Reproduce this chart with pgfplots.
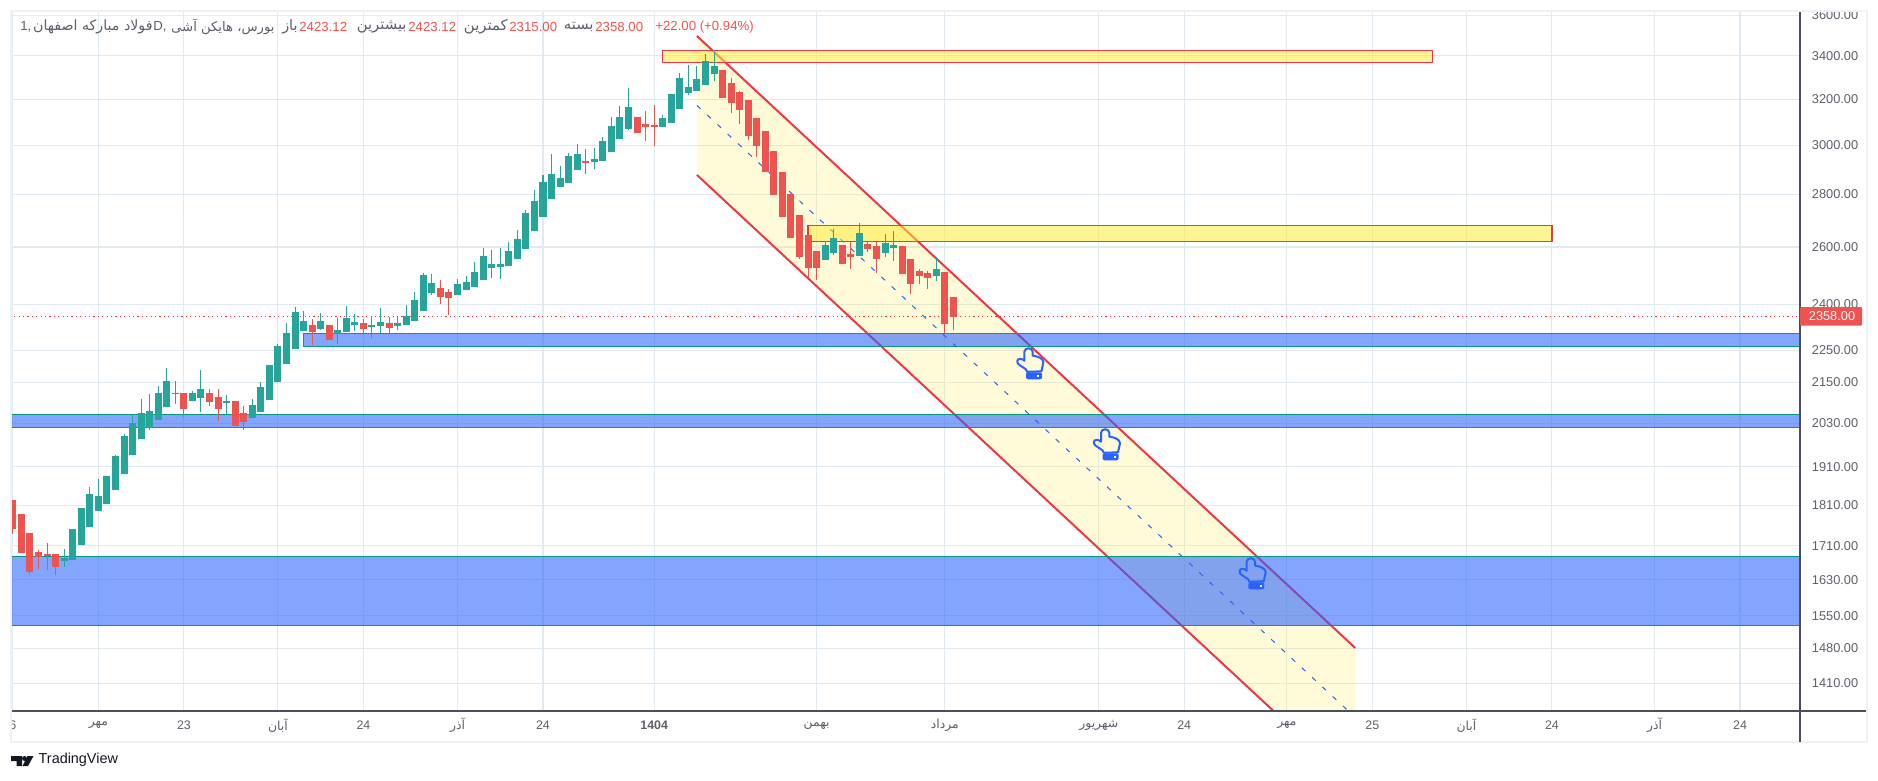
\documentclass[border=0pt]{standalone}
\usepackage{fontspec}
\usepackage{pgfplots}
\usepackage{pgfplotstable}
\pgfplotsset{compat=1.18}
\setmainfont{Liberation Sans}
\newfontfamily\arabicfont[Script=Arabic]{DejaVu Sans}
\TeXXeTstate=1
\newcommand\fa[1]{{\arabicfont\beginR #1\endR}}
\definecolor{cgreen}{HTML}{26A69A}
\definecolor{cred}{HTML}{EF5350}
\definecolor{cline}{HTML}{F23645}
\definecolor{cyel}{HTML}{FFEB3B}
\definecolor{cblue}{HTML}{2962FF}
\definecolor{cband}{HTML}{089981}
\definecolor{cgrid}{HTML}{E2EAF1}
\definecolor{clabel}{HTML}{5D606B}
\definecolor{caxis}{HTML}{4C4E5C}
\definecolor{cframe}{HTML}{EFF1F5}
\definecolor{cdark}{HTML}{131722}
% i low bodylow bodyhigh high
\pgfplotstableread{
i l b t h
6 1660 1674 1681 1702
7 1676 1676 1751 1751
8 1712 1712 1803 1803
9 1756 1756 1839 1857
10 1796 1796 1834 1878
11 1813 1813 1886 1886
12 1849 1849 1940 1942
13 1891 1891 1995 2001
14 1942 1942 2032 2058
15 1987 1987 2060 2101
16 2012 2017 2066 2116
17 2040 2040 2119 2140
18 2078 2078 2155 2195
19 2087 2116 2119 2155
21 2095 2095 2119 2125
22 2063 2104 2131 2188
25 2058 2089 2095 2113
28 2046 2046 2084 2101
29 2063 2063 2137 2152
30 2098 2098 2204 2204
31 2152 2152 2263 2270
32 2207 2207 2305 2338
33 2254 2254 2374 2391
34 2312 2312 2344 2377
36 2315 2318 2344 2371
38 2270 2302 2315 2354
39 2308 2308 2354 2394
40 2312 2331 2341 2367
42 2289 2325 2331 2361
43 2302 2328 2341 2387
45 2315 2328 2338 2357
46 2331 2331 2361 2398
47 2344 2344 2414 2442
48 2377 2377 2501 2508
49 2431 2438 2473 2504
52 2431 2431 2469 2487
53 2448 2448 2476 2497
54 2459 2459 2511 2547
55 2483 2483 2568 2597
56 2490 2525 2540 2590
57 2487 2529 2540 2597
58 2532 2532 2586 2619
59 2557 2557 2630 2664
60 2593 2593 2728 2739
61 2660 2660 2774 2817
62 2713 2713 2849 2877
63 2782 2782 2881 2963
64 2829 2829 2865 2914
65 2845 2845 2955 2967
66 2897 2897 2963 3005
68 2901 2930 2943 2988
69 2934 2934 3018 3035
70 2972 2972 3082 3121
71 3026 3026 3121 3169
72 3065 3069 3165 3251
76 3078 3078 3117 3130
77 3095 3095 3224 3224
78 3156 3156 3297 3320
79 3219 3228 3255 3357
80 3237 3237 3292 3353
81 3264 3264 3376 3410
82 3283 3315 3353 3419
95 2554 2554 2608 2623
96 2572 2579 2634 2667
99 2568 2568 2652 2690
102 2565 2579 2615 2649
103 2550 2597 2608 2660
108 2480 2497 2522 2565
}\greentab
\pgfplotstableread{
i l b t h
0 1738 1751 1824 1824
1 1693 1693 1788 1788
2 1644 1648 1741 1741
3 1655 1683 1695 1700
4 1653 1686 1690 1717
5 1641 1660 1690 1690
20 2049 2072 2119 2119
23 2081 2092 2119 2131
24 2037 2072 2107 2131
26 2023 2023 2095 2095
27 2012 2035 2060 2081
35 2267 2308 2331 2351
37 2283 2283 2331 2331
41 2299 2318 2338 2351
44 2299 2321 2338 2357
50 2401 2425 2455 2483
51 2364 2421 2442 2452
67 2881 2926 2934 2984
73 3052 3052 3121 3121
74 3018 3078 3091 3148
75 2997 3078 3086 3174
83 3205 3205 3334 3334
84 3139 3183 3274 3297
85 3091 3152 3233 3237
86 3022 3039 3196 3196
87 2951 2997 3117 3117
88 2889 2889 3060 3060
89 2798 2798 2976 2976
90 2713 2713 2889 2889
91 2634 2634 2801 2801
92 2557 2565 2720 2720
93 2490 2525 2645 2645
94 2483 2525 2586 2586
97 2540 2540 2608 2608
98 2522 2565 2575 2619
100 2583 2593 2612 2619
101 2508 2557 2604 2619
104 2504 2504 2604 2604
105 2435 2469 2557 2557
106 2469 2497 2515 2522
107 2452 2490 2508 2515
109 2305 2334 2511 2511
110 2315 2358 2423.12 2423.12
}\redtab
\newcommand\handicon[2]{%
\begin{scope}[shift={(#1,#2)}]
\draw[cblue,line width=1pt,line join=round] (7.7,12.5) -- (7.7,3.5) .. controls (7.7,-1.2) and (16,-1.2) .. (16,3.5) -- (16,7.3) .. controls (20,8) and (26.7,9.5) .. (26.7,14) -- (24.7,23) -- (10.5,23.5) .. controls (9.5,21) and (9,20.5) .. (7,19.5) -- (2.5,16.5) .. controls (-0.5,14.5) and (0,10.5) .. (3.5,10.5) .. controls (5.5,10.5) and (6.5,11.5) .. (7.7,12.5) -- cycle;
\fill[cblue,rounded corners=1pt] (9.3,24) rectangle (25.3,31);
\fill[white] (20.7,26.7) rectangle (22.7,28.7);
\end{scope}}
\begin{document}
\begin{tikzpicture}
\begin{scope}[x=0.5pt,y=-0.5pt]
\path[use as bounding box] (0,0) rectangle (1878,781);
\end{scope}
\begin{axis}[
  at={(6pt,-355.75pt)}, anchor=south west,
  scale only axis, width=894pt, height=349.75pt,
  ymode=log,
  xmin=-0.105, xmax=209.02, ymin=1355, ymax=3616.6,
  axis line style={draw=none},
  major tick length=0pt,
  log ticks with fixed point,
  grid=major,
  major grid style={cgrid,line width=0.55pt},
  xtick={0,10,20,31,41,52,62,75,94,109,127,137,149,159,170,180,192,202},
  xticklabels={6,\fa{مهر},23,\fa{آبان},24,\fa{آذر},24,\textbf{1404},\fa{بهمن},\fa{مرداد},\fa{شهریور},24,\fa{مهر},25,\fa{آبان},24,\fa{آذر},24},
  ytick={1410,1480,1550,1630,1710,1810,1910,2030,2150,2250,2400,2600,2800,3000,3200,3400,3600},
  yticklabels={1410.00,1480.00,1550.00,1630.00,1710.00,1810.00,1910.00,2030.00,2150.00,2250.00,2400.00,2600.00,2800.00,3000.00,3200.00,3400.00,3600.00},
  yticklabel pos=right,
  xticklabel style={anchor=center,inner sep=0pt,yshift=-7pt,text=clabel,font=\fontsize{6.2}{7}\selectfont},
  yticklabel style={anchor=west,inner sep=0pt,xshift=5.75pt,text=clabel,font=\fontsize{6.4}{7}\selectfont},
]
% channel
\addplot[fill=cyel,fill opacity=0.2,draw=none] coordinates {(80,3496.8)(157,1481.3)(157,1218.7)(80,2877.1)} -- cycle;
\addplot[cline,line width=1pt] coordinates {(80,3496.8)(157,1481.3)};
\addplot[cline,line width=1pt] coordinates {(80,2877.1)(157,1218.7)};
\addplot[cblue,line width=0.5pt,dash pattern=on 2.5pt off 4.5pt] coordinates {(80,3171.8)(157,1343.6)};
% last price
\addplot[cline,line width=0.5pt,dash pattern=on 0.6pt off 1.6pt] coordinates {(-5,2358)(215,2358)};
% yellow zones
\addplot[fill=cyel,fill opacity=0.55,draw=cline,line width=0.6pt] coordinates {(76,3425.4)(166,3425.4)(166,3370)(76,3370)} -- cycle;
\addplot[fill=cyel,fill opacity=0.55,draw=cline,line width=0.6pt] coordinates {(93,2679.7)(180,2679.7)(180,2619)(93,2619)} -- cycle;
% blue zones
\addplot[fill=cblue,fill opacity=0.58,draw=cband,line width=0.6pt] coordinates {(34,2303.4)(215,2303.4)(215,2260.2)(34,2260.2)} -- cycle;
\addplot[fill=cblue,fill opacity=0.58,draw=cband,line width=0.6pt] coordinates {(-5,2056.6)(215,2056.6)(215,2019.4)(-5,2019.4)} -- cycle;
\addplot[fill=cblue,fill opacity=0.58,draw=cband,line width=0.6pt] coordinates {(-5,1684.9)(215,1684.9)(215,1529.2)(-5,1529.2)} -- cycle;
% wicks
\addplot[draw=none,mark=none,error bars/.cd,y dir=plus,y explicit,error mark=none,error bar style={draw=cgreen,line width=0.5pt}] table[x=i,y=l,y error plus expr=\thisrow{h}-\thisrow{l}] {\greentab};
\addplot[draw=none,mark=none,error bars/.cd,y dir=plus,y explicit,error mark=none,error bar style={draw=cred,line width=0.5pt}] table[x=i,y=l,y error plus expr=\thisrow{h}-\thisrow{l}] {\redtab};
% bodies
\addplot[draw=none,mark=none,error bars/.cd,y dir=plus,y explicit,error mark=none,error bar style={draw=cgreen,line width=3.5pt}] table[x=i,y=b,y error plus expr=\thisrow{t}-\thisrow{b}] {\greentab};
\addplot[draw=none,mark=none,error bars/.cd,y dir=plus,y explicit,error mark=none,error bar style={draw=cred,line width=3.5pt}] table[x=i,y=b,y error plus expr=\thisrow{t}-\thisrow{b}] {\redtab};
\end{axis}
\begin{scope}[x=0.5pt,y=-0.5pt]
\draw[cframe,line width=1.25pt] (11,11) rectangle (1867,742);
\draw[caxis,line width=0.55pt] (12,711) -- (1866,711);
\draw[caxis,line width=0.55pt] (1800,12) -- (1800,742);
% price label
\fill[cred,rounded corners=0.5pt] (1800,307) rectangle (1862,325.7);
\node[anchor=center,inner sep=0pt,text=white,font=\fontsize{6.4}{7}\selectfont] at (1832,316.3) {2358.00};
% hands
\handicon{1016.7}{348.3}
\handicon{1093.3}{429.3}
\handicon{1239}{558.3}
% title
\tikzset{tt/.style={anchor=west,inner sep=0pt,font=\fontsize{6.6}{8}\selectfont},
 gg/.style={tt,text=clabel},rr/.style={tt,text=cred},
 ff/.style={anchor=east,inner sep=0pt,font=\fontsize{#1}{8}\selectfont,text=clabel}}
\node[gg] at (20,27) {1,};
\node[ff=7.1] at (153,27) {\fa{فولاد مبارکه اصفهان}};
\node[gg] at (153,27) {D,};
\node[ff=6.6] at (275,27) {\fa{بورس، هایکن آشی}};
\node[ff=7.2] at (298,27) {\fa{باز}};
\node[rr] at (299,27) {2423.12};
\node[ff=7.4] at (407,27) {\fa{بیشترین}};
\node[rr] at (408,27) {2423.12};
\node[ff=7.4] at (508,27) {\fa{کمترین}};
\node[rr] at (509,27) {2315.00};
\node[ff=7.4] at (594,27) {\fa{بسته}};
\node[rr] at (595,27) {2358.00};
\node[rr] at (655,27) {+22.00 (+0.94\%)};
% logo
\fill[cdark] (11,756) -- (22,756) -- (22,766) -- (16.5,766) -- (16.5,761) -- (11,761) -- cycle;
\fill[cdark] (24.5,758.5) circle (2.5);
\fill[cdark] (27.5,756) -- (33.5,756) -- (28,766) -- (22.5,766) -- cycle;
\node[anchor=west,inner sep=0pt,text=cdark,font=\fontsize{7.2}{9}\selectfont] at (38.3,760) {TradingView};
\end{scope}
\end{tikzpicture}
\end{document}
